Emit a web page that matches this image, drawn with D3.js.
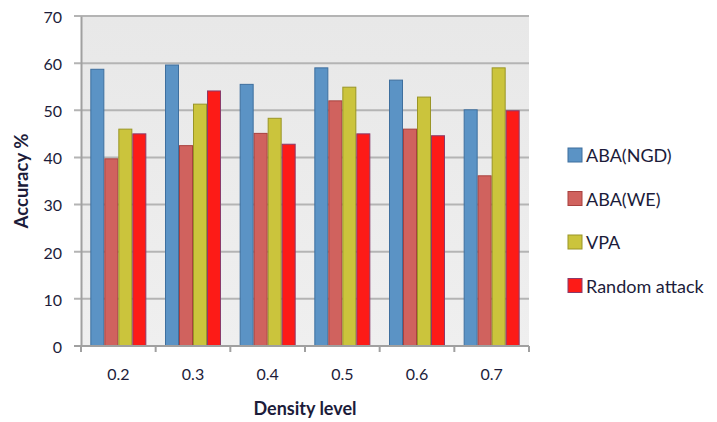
<!DOCTYPE html>
<html>
<head>
<meta charset="utf-8">
<script src="https://cdn.jsdelivr.net/npm/d3@7"></script>
<style>
  body { margin: 0; background: #fff; }
  text { font-family: Lato, "DejaVu Sans", sans-serif; fill: #1c1c3a; }
</style>
</head>
<body>
<div id="chart"></div>
<script>
// chart data
var categories = ["0.2", "0.3", "0.4", "0.5", "0.6", "0.7"];
var seriesNames = ["ABA(NGD)", "ABA(WE)", "VPA", "Random attack"];
var abaNgd = [58.7, 59.6, 55.5, 59.0, 56.4, 50.1];
var abaWe = [39.7, 42.5, 45.1, 52.0, 46.0, 36.1];
var vpa = [46.0, 51.3, 48.3, 54.9, 52.8, 59.0];
var randomAttack = [45.0, 54.1, 42.8, 45.0, 44.6, 49.9];
var yTicks = [0, 10, 20, 30, 40, 50, 60, 70];

var fills = ["#5b93c5", "#d0625e", "#cbc43c", "#fd1b17"];
var strokes = ["#3e6f9e", "#a8413f", "#9a9526", "#8a3a6a"];

var allSeries = [abaNgd, abaWe, vpa, randomAttack];

var W = 717, H = 422;
var margin = { top: 16, right: 188, bottom: 76, left: 81 };
var width = W - margin.left - margin.right,
    height = H - margin.top - margin.bottom;

var svg = d3.select("#chart").append("svg")
    .attr("width", W)
    .attr("height", H);

var defs = svg.append("defs");
var grad = defs.append("linearGradient")
    .attr("id", "bg").attr("x1", 0).attr("y1", 0).attr("x2", 0).attr("y2", 1);
grad.append("stop").attr("offset", "0%").attr("stop-color", "#e8e8e8");
grad.append("stop").attr("offset", "100%").attr("stop-color", "#efefef");

var g = svg.append("g")
    .attr("transform", "translate(" + margin.left + "," + margin.top + ")");

var x = d3.scaleBand()
    .domain(categories)
    .range([0, width])
    .paddingInner(0.25)
    .paddingOuter(0.125);
var x1 = d3.scaleBand()
    .domain(d3.range(seriesNames.length))
    .range([0, x.bandwidth()]);
var y = d3.scaleLinear()
    .domain([0, 70])
    .range([height, 0]);

// plot background
g.append("rect")
    .attr("width", width)
    .attr("height", height)
    .attr("fill", "url(#bg)");

// gridlines
g.selectAll(".grid")
    .data(yTicks)
    .enter().append("line")
    .attr("x1", -7)
    .attr("x2", width)
    .attr("y1", d => y(d))
    .attr("y2", d => y(d))
    .attr("stroke", "#b4b4b4")
    .attr("stroke-width", 2);

// bars
var groups = g.selectAll(".grp")
    .data(categories)
    .enter().append("g")
    .attr("transform", d => "translate(" + x(d) + ",0)");

groups.selectAll("rect")
    .data((c, i) => allSeries.map((s, k) => ({ k: k, v: s[i] })))
    .enter().append("rect")
    .attr("x", d => x1(d.k) + 0.5)
    .attr("y", d => y(d.v))
    .attr("width", x1.bandwidth() - 1)
    .attr("height", d => height - y(d.v))
    .attr("fill", d => fills[d.k])
    .attr("stroke", d => strokes[d.k])
    .attr("stroke-width", 1);

// y axis
var yAxis = g.append("g")
    .call(d3.axisLeft(y).tickValues(yTicks).tickSize(0).tickPadding(19));
yAxis.select(".domain").attr("stroke", "#a0a0a0").attr("stroke-width", 2);
yAxis.selectAll("text").attr("font-size", "16px").attr("dy", "0.4em")
    .style("font-family", "Lato, sans-serif").attr("fill", "#1c1c3a");

// x axis with ticks at category boundaries
var xAxisG = g.append("g").attr("transform", "translate(0," + height + ")");
xAxisG.append("line")
    .attr("x1", -7).attr("x2", width)
    .attr("stroke", "#a0a0a0").attr("stroke-width", 2);
var step = x.step();
xAxisG.selectAll(".tk")
    .data(d3.range(categories.length + 1))
    .enter().append("line")
    .attr("x1", d => d * step)
    .attr("x2", d => d * step)
    .attr("y1", 0).attr("y2", 6)
    .attr("stroke", "#a0a0a0").attr("stroke-width", 2);
xAxisG.selectAll(".lbl")
    .data(categories)
    .enter().append("text")
    .attr("x", d => x(d) + x.bandwidth() / 2)
    .attr("y", 34)
    .attr("text-anchor", "middle")
    .attr("font-size", "16px")
    .text(d => d);

// axis titles
svg.append("text")
    .attr("x", margin.left + width / 2)
    .attr("y", 415)
    .attr("text-anchor", "middle")
    .attr("font-size", "18px")
    .attr("font-weight", "bold")
    .text("Density level");

svg.append("text")
    .attr("transform", "translate(28," + (margin.top + height / 2) + ") rotate(-90)")
    .attr("text-anchor", "middle")
    .attr("font-size", "18.5px")
    .attr("font-weight", "bold")
    .text("Accuracy %");

// legend
var legend = svg.append("g").attr("transform", "translate(568,148)");
var li = legend.selectAll("g")
    .data(seriesNames)
    .enter().append("g")
    .attr("transform", (d, i) => "translate(0," + (i * 43.5) + ")");
li.append("rect")
    .attr("width", 14).attr("height", 14)
    .attr("fill", (d, i) => fills[i])
    .attr("stroke", (d, i) => strokes[i]);
li.append("text")
    .attr("x", 18).attr("y", 14)
    .attr("font-size", "18px")
    .text(d => d);
</script>
</body>
</html>
